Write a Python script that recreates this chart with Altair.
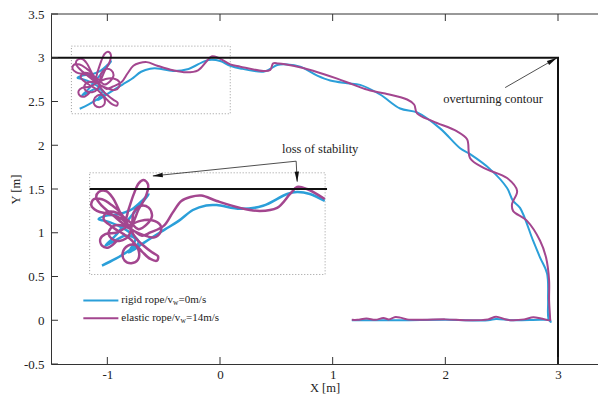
import altair as alt
import pandas as pd

# ---------------- data ----------------
rigid_x = [-1.245, -1.165, -1.085, -1.025, -1.065, -1.145, -1.225, -1.265, -1.225, -1.145,
           -1.065, -0.995, -0.965, -1.005, -1.085, -1.165, -1.225, -1.185, -1.105, -1.045,
           -1.085, -1.065, -1.005, -0.945, -0.865, -0.785, -0.70, -0.62, -0.557, -0.416,
           -0.279, -0.135, -0.075, 0.002, 0.091, 0.180, 0.384, 0.446, 0.508, 0.596,
           0.712, 0.863, 0.978, 1.129, 1.244, 1.421, 1.599, 1.749, 1.953, 2.131,
           2.220, 2.397, 2.548, 2.601, 2.663, 2.779, 2.841, 2.903, 2.912, 2.915,
           2.935, 2.93, 2.85, 2.6, 2.45, 2.38, 2.0, 1.6, 1.17]
rigid_y = [2.417, 2.467, 2.530, 2.593, 2.656, 2.719, 2.757, 2.770, 2.795, 2.808,
           2.846, 2.922, 2.959, 2.896, 2.770, 2.644, 2.568, 2.593, 2.644, 2.619,
           2.518, 2.530, 2.581, 2.631, 2.694, 2.757, 2.84, 2.875, 2.878, 2.849,
           2.872, 2.962, 2.977, 2.962, 2.909, 2.878, 2.841, 2.872, 2.917, 2.924,
           2.898, 2.795, 2.739, 2.708, 2.690, 2.580, 2.420, 2.375, 2.193, 1.966,
           1.898, 1.727, 1.511, 1.364, 1.284, 0.909, 0.716, 0.534, 0.227, 0.02,
           -0.02, 0.0, 0.005, 0.0, 0.015, 0.0, 0.005, 0.0, 0.0]

elastic_x = [-1.155, -1.205, -1.245, -1.255, -1.225, -1.155, -1.085, -1.015, -0.945, -0.895,
             -0.895, -0.935, -0.995, -1.055, -1.115, -1.175, -1.245, -1.279, -1.265, -1.221,
             -1.181, -1.145, -1.109, -1.085, -1.055, -1.025, -0.995, -0.969, -0.981, -1.025,
             -1.075, -1.125, -1.195, -1.275, -1.309, -1.295, -1.245, -1.185, -1.135, -1.085,
             -1.045, -0.995, -0.945, -0.909, -0.915, -0.955, -1.005, -1.045, -1.089, -1.121,
             -1.109, -1.069, -1.029, -1.025, -1.065, -1.115, -1.165, -1.205, -1.235, -1.221,
             -1.175, -1.125, -1.075, -1.025,
             -0.975, -0.945, -0.965, -1.015, -1.055, -1.065, -1.085, -1.135, -1.185, -1.205,
             -1.175, -1.115, -1.055, -1.005,
             -0.955, -0.875, -0.821, -0.769, -0.715, -0.65,
             -0.557, -0.416, -0.299, -0.195, -0.117, -0.075, -0.016, 0.091, 0.180, 0.384,
             0.446, 0.472, 0.517, 0.650, 0.826, 1.040, 1.182, 1.333, 1.466, 1.661,
             1.723, 1.749, 1.891, 2.104, 2.193, 2.220, 2.344, 2.548, 2.637, 2.592,
             2.601, 2.725, 2.841, 2.894, 2.921, 2.921, 2.93, 2.93, 2.85, 2.78,
             2.7, 2.55, 2.45, 2.38, 2.2, 2.0, 1.8, 1.66, 1.6, 1.55,
             1.5, 1.45, 1.38, 1.3, 1.22, 1.17]
elastic_y = [2.606, 2.555, 2.568, 2.619, 2.656, 2.669, 2.719, 2.757, 2.762, 2.725,
             2.669, 2.631, 2.649, 2.682, 2.732, 2.795, 2.871, 2.934, 2.977, 2.985,
             2.934, 2.846, 2.757, 2.846, 2.959, 3.043, 3.068, 3.035, 2.947, 2.846,
             2.719, 2.770, 2.808, 2.833, 2.876, 2.922, 2.922, 2.876, 2.821, 2.719,
             2.631, 2.568, 2.518, 2.487, 2.454, 2.467, 2.523, 2.573, 2.568, 2.512,
             2.454, 2.434, 2.462, 2.530, 2.606, 2.656, 2.694, 2.732, 2.770, 2.821,
             2.826, 2.795, 2.745, 2.694,
             2.732, 2.795, 2.858, 2.871, 2.821, 2.732, 2.644, 2.606, 2.619, 2.669,
             2.719, 2.719, 2.682, 2.644,
             2.669, 2.719, 2.820, 2.909, 2.939, 2.95,
             2.909, 2.856, 2.833, 2.856, 2.962, 3.015, 3.0, 2.924, 2.898, 2.849,
             2.860, 2.935, 2.935, 2.909, 2.852, 2.761, 2.693, 2.625, 2.591, 2.523,
             2.466, 2.364, 2.273, 2.159, 2.068, 1.852, 1.739, 1.625, 1.477, 1.330,
             1.250, 1.136, 0.909, 0.716, 0.455, 0.227, 0.02, 0.0, 0.02, 0.035,
             0.01, 0.005, 0.04, 0.01, 0.0, 0.01, 0.005, 0.01, 0.03, 0.035,
             0.01, 0.025, 0.005, 0.02, 0.005, 0.005]

series_names = ["rigid", "elastic"]
series_colors = ["#2b9fd9", "#a3468f"]

x_ticks = [-1, 0, 1, 2, 3]
y_ticks = [-0.5, 0, 0.5, 1, 1.5, 2, 2.5, 3, 3.5]
x_lim = [-1.5, 3.355]
y_lim = [-0.5, 3.5]

# overturning contour
contour_x = [-1.5, 3.0, 3.0]
contour_y = [3.0, 3.0, -0.5]

# zoom window (source) and its magnified copy (inset)
src_box = dict(x=-1.319, x2=0.091, y=2.36, y2=3.133)
inset_box = dict(x=-1.157, x2=0.933, y=0.523, y2=1.685)
mag_x, mag_y = 1.48, 1.5
inset_line_x = [-1.157, 0.95]

# annotations
arrow_id = ["a", "a", "b", "b", "c", "c"]
arrow_x = [2.531, 2.985, 0.676, -0.595, 0.676, 0.685]
arrow_y = [2.659, 2.995, 1.818, 1.649, 1.818, 1.585]
head_x = [2.992, -0.601, 0.685]
head_y = [3.0, 1.648, 1.578]
head_angle = [60, 264, 178]
note_text = ["overturning contour", "loss of stability"]
note_x = [2.424, 0.889]
note_y = [2.534, 1.955]

legend_line_x = [-1.213, -0.902]
legend_y = [0.227, 0.023]
legend_text_x = -0.876
legend_main = ["rigid rope/v", "elastic rope/v"]
legend_tail = ["=0m/s", "=14m/s"]

assert len(rigid_x) == len(rigid_y) and len(elastic_x) == len(elastic_y)

# ---------------- frames ----------------
rows = []
for s, xs, ys in [("rigid", rigid_x, rigid_y), ("elastic", elastic_x, elastic_y)]:
    for k, (a, b) in enumerate(zip(xs, ys)):
        rows.append({"s": s, "i": k, "x": a, "y": b})
curves = pd.DataFrame(rows)

FONT = "Liberation Serif"
xscale = alt.Scale(domain=x_lim, nice=False, zero=False)
yscale = alt.Scale(domain=y_lim, nice=False, zero=False)
xaxis = alt.Axis(values=x_ticks, tickSize=0, labelExpr="'' + datum.value", title="X [m]",
                 labelPadding=4, titlePadding=0, grid=False)
yaxis = alt.Axis(values=y_ticks, tickSize=0, labelExpr="'' + datum.value", title="Y [m]",
                 labelPadding=7, titlePadding=1, grid=False)


def X(f="x"):
    return alt.X(f"{f}:Q", scale=xscale, axis=xaxis)


def Y(f="y"):
    return alt.Y(f"{f}:Q", scale=yscale, axis=yaxis)


color = alt.Color("s:N", scale=alt.Scale(domain=series_names, range=series_colors), legend=None)

base_curves = alt.Chart(curves)
main_lines = base_curves.mark_line(strokeWidth=2, interpolate="catmull-rom").encode(
    x=X(), y=Y(), color=color, order="i:Q")

inset_lines = base_curves.transform_filter("datum.x <= 0.095").transform_calculate(
    xi=f"{inset_box['x']} + (datum.x - ({src_box['x']})) * {mag_x}",
    yi=f"1.5 + (datum.y - 3) * {mag_y}",
).mark_line(strokeWidth=2.5, interpolate="catmull-rom").encode(
    x=X("xi"), y=Y("yi"), color=color, order="i:Q")

boxes = alt.Chart(pd.DataFrame([src_box, inset_box])).mark_rect(
    fillOpacity=0, stroke="#9a9a9a", strokeWidth=1, strokeDash=[1, 2]).encode(
    x=X(), x2="x2:Q", y=Y(), y2="y2:Q")

contour = alt.Chart(pd.DataFrame({"x": contour_x, "y": contour_y, "i": [0, 1, 2]})).mark_line(
    color="#111", strokeWidth=2).encode(x=X(), y=Y(), order="i:Q")

inset_line = alt.Chart(pd.DataFrame({"x": inset_line_x, "y": [1.5, 1.5]})).mark_line(
    color="#111", strokeWidth=2.2).encode(x=X(), y=Y())

arrows = alt.Chart(pd.DataFrame({"id": arrow_id, "x": arrow_x, "y": arrow_y})).mark_line(
    color="#222", strokeWidth=0.8).encode(x=X(), y=Y(), detail="id:N")

heads = alt.Chart(pd.DataFrame({"x": head_x, "y": head_y, "a": head_angle})).mark_point(
    shape="M0,0L0.42,2L-0.42,2Z", filled=True, color="#111", opacity=1, size=110).encode(
    x=X(), y=Y(), angle=alt.Angle("a:Q", scale=None))

notes = alt.Chart(pd.DataFrame({"x": note_x, "y": note_y, "t": note_text})).mark_text(
    font=FONT, fontSize=12.5, color="#222", align="center", baseline="middle").encode(
    x=X(), y=Y(), text="t:N")

leg_lines = alt.Chart(pd.DataFrame({
    "s": ["rigid", "rigid", "elastic", "elastic"],
    "x": legend_line_x * 2,
    "y": [legend_y[0]] * 2 + [legend_y[1]] * 2,
})).mark_line(strokeWidth=2).encode(x=X(), y=Y(), color=color, detail="s:N")

leg_main = alt.Chart(pd.DataFrame({"x": [legend_text_x] * 2, "y": legend_y, "t": legend_main})).mark_text(
    font=FONT, fontSize=11, color="#222", align="left", baseline="middle").encode(
    x=X(), y=Y(), text="t:N")

leg_parts = []
for k, (sub_dx, tail_dx) in enumerate([(51.8, 57.3), (59.2, 64.7)]):
    one = pd.DataFrame({"x": [legend_text_x], "y": [legend_y[k]], "w": ["w"], "t": [legend_tail[k]]})
    leg_parts.append(alt.Chart(one).mark_text(
        font=FONT, fontSize=7.5, color="#222", align="left", baseline="middle", dx=sub_dx, dy=3).encode(
        x=X(), y=Y(), text="w:N"))
    leg_parts.append(alt.Chart(one).mark_text(
        font=FONT, fontSize=11, color="#222", align="left", baseline="middle", dx=tail_dx).encode(
        x=X(), y=Y(), text="t:N"))

# inward ticks and top frame
tick_len_y = 0.08
tick_len_x = 0.062
bt = pd.DataFrame({"x": x_ticks, "y": [y_lim[0]] * 5, "y2": [y_lim[0] + tick_len_y] * 5})
tt = pd.DataFrame({"x": x_ticks, "y": [y_lim[1]] * 5, "y2": [y_lim[1] - tick_len_y] * 5})
lt = pd.DataFrame({"y": y_ticks, "x": [x_lim[0]] * len(y_ticks), "x2": [x_lim[0] + tick_len_x] * len(y_ticks)})
ticks_b = alt.Chart(bt).mark_rule(color="#333", strokeWidth=1).encode(x=X(), y=Y(), y2="y2:Q")
ticks_t = alt.Chart(tt).mark_rule(color="#333", strokeWidth=1).encode(x=X(), y=Y(), y2="y2:Q")
ticks_l = alt.Chart(lt).mark_rule(color="#333", strokeWidth=1).encode(x=X(), x2="x2:Q", y=Y())
top_frame = alt.Chart(pd.DataFrame({"x": [x_lim[0]], "x2": [x_lim[1]], "y": [y_lim[1]]})).mark_rule(
    color="#333", strokeWidth=1).encode(x=X(), x2="x2:Q", y=Y())

chart = alt.layer(
    boxes, main_lines, inset_lines, contour, inset_line, arrows, heads, notes,
    leg_lines, leg_main, *leg_parts, ticks_b, ticks_t, ticks_l, top_frame,
).properties(
    width=547, height=350,
    background="white",
    autosize=alt.AutoSizeParams(type="none"),
    padding={"left": 43, "top": 6, "right": 0, "bottom": 32},
).configure_view(stroke=None).configure_axis(
    domainColor="#333", domainWidth=1, labelFont=FONT, labelFontSize=13, labelColor="#222",
    titleFont=FONT, titleFontSize=12.5, titleFontWeight="normal", titleColor="#222",
)

chart.save("out.html", embed_options={"renderer": "svg", "actions": False})
